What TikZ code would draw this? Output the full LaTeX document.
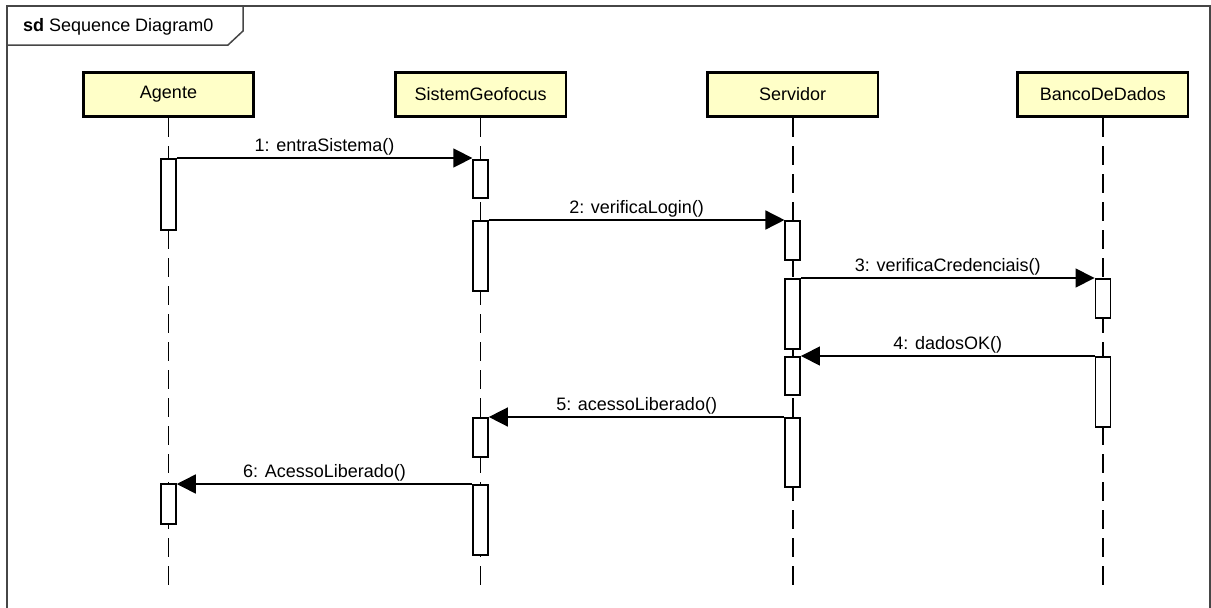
\documentclass[tikz,border=0pt]{standalone}
\usepackage{fontspec}
\setmainfont{Liberation Sans}
\usetikzlibrary{arrows.meta, positioning}

\definecolor{headfill}{RGB}{255,255,200}
\definecolor{framegray}{RGB}{70,70,70}

\begin{document}
\begin{tikzpicture}[x=1pt, y=-1pt, >={Triangle[length=19pt,width=19pt]}, font=\fontsize{18}{21}\selectfont]
\tikzstyle{head}=[draw=black, line width=2.6pt, fill=headfill, minimum width=170.5pt, minimum height=44.5pt, inner sep=0pt]
\tikzstyle{act}=[draw=black, line width=1.5pt, fill=white, minimum width=15pt, inner sep=0pt, anchor=north]
\tikzstyle{life}=[line width=1.6pt, dash pattern=on 19pt off 9pt]
\tikzstyle{msg}=[->, line width=1.5pt]
\tikzstyle{lbl}=[anchor=base, yshift=7pt, inner sep=0pt]
\useasboundingbox (0,0) rectangle (1211,608);
% frame and title tab
\draw[framegray, line width=1.5pt] (7,608) -- (7,6) -- (1210,6) -- (1210,608);
\draw[framegray, line width=1.5pt] (7,45) -- (228,45) -- (243,31) -- (243,6);
\node[anchor=west, inner sep=0pt] (title) at (23,27) {\textbf{sd} Sequence Diagram0};
% lifeline heads
\node[head]    (A) at (168.5,94.5)     {Agente};
\node[head]    (S)[right=139pt of A]   {SistemGeofocus};
\node[head]    (V)[right=139pt of S]   {Servidor};
\node[head]    (B)[right=137pt of V]   {BancoDeDados};
\coordinate (Aend) at (A.south |- 0,587);
\coordinate (Send) at (S.south |- 0,587);
\coordinate (Vend) at (V.south |- 0,587);
\coordinate (Bend) at (B.south |- 0,587);
\draw[life] (A.south) -- (Aend);
\draw[life] (S.south) -- (Send);
\draw[life] (V.south) -- (Vend);
\draw[life] (B.south) -- (Bend);
% activations
\node[act, minimum height=71pt] (a1) at (A.south |- 0,158) {};
\node[act, minimum height=40pt] (a2) at (A.south |- 0,483) {};
\node[act, minimum height=38pt] (s1) at (S.south |- 0,159) {};
\node[act, minimum height=70pt] (s2) at (S.south |- 0,220) {};
\node[act, minimum height=39pt] (s3) at (S.south |- 0,417) {};
\node[act, minimum height=70pt] (s4) at (S.south |- 0,484) {};
\node[act, minimum height=39pt] (v1) at (V.south |- 0,220) {};
\node[act, minimum height=70pt] (v2) at (V.south |- 0,278) {};
\node[act, minimum height=38pt] (v3) at (V.south |- 0,356) {};
\node[act, minimum height=69pt] (v4) at (V.south |- 0,417) {};
\node[act, minimum height=39pt] (b1) at (B.south |- 0,278) {};
\node[act, minimum height=70pt] (b2) at (B.south |- 0,356) {};
% messages
\draw[msg] (a1.north east) -- (a1.north east -| s1.west) node[lbl, midway] {1: entraSistema()};
\draw[msg] (s2.north east) -- (s2.north east -| v1.west) node[lbl, midway] {2: verificaLogin()};
\draw[msg] (v2.north east) -- (v2.north east -| b1.west) node[lbl, midway] {3: verificaCredenciais()};
\draw[msg] (b2.north west) -- (b2.north west -| v3.east) node[lbl, midway] {4: dadosOK()};
\draw[msg] (v4.north west) -- (v4.north west -| s3.east) node[lbl, midway] {5: acessoLiberado()};
\draw[msg] (s4.north west) -- (s4.north west -| a2.east) node[lbl, midway] {6: AcessoLiberado()};
\end{tikzpicture}
\end{document}
